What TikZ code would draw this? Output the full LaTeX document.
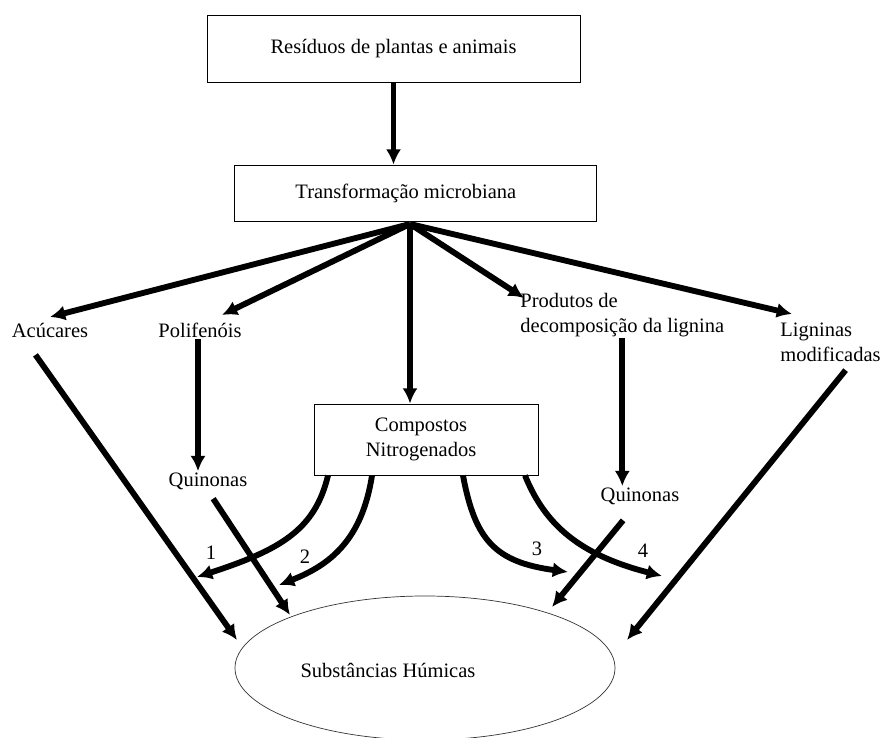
\documentclass[tikz,border=0pt]{standalone}
\usepackage{fontspec}
\setmainfont{Liberation Serif}
\usetikzlibrary{arrows.meta,shapes.geometric}

\begin{document}
\begin{tikzpicture}[x=0.03cm,y=-0.03cm,
every node/.style={font=\fontsize{17.5}{21.5}\selectfont, inner sep=1pt},
caixa/.style={draw, line width=0.8pt},
seta/.style={line width=5pt, -{Latex[length=13pt,width=13pt]}},
fina/.style={draw, ellipse, line width=0.6pt, black!80}]
\useasboundingbox (0,0) rectangle (882,738);
\node[caixa, minimum width=11.19cm, minimum height=2.01cm] (res) at (393.5,48.5) {Resíduos de plantas e animais};
\node[caixa, minimum width=10.86cm, minimum height=1.68cm] (trans) at (415,193) {Transformação microbiana\kern0.55cm};
\node[caixa, minimum width=6.72cm, minimum height=2.13cm, align=center] (comp) at (426,439.5) {Compostos\kern0.3cm\\Nitrogenados\kern0.3cm};
\node[fina, minimum width=11.4cm, minimum height=4.32cm] (hum) at (425,668) {};
\node (humtxt) at (388,670) {Substâncias Húmicas};
\node (acu) at (50,330) {Acúcares};
\node (poli) at (200,330) {Polifenóis};
\node[anchor=west, align=left] (prod) at (519,315) {Produtos de\\decomposição da lignina};
\node[anchor=west, align=left] (lig) at (779,342) {Ligninas\\modificadas};
\node (quin1) at (208,481) {Quinonas};
\node (quin2) at (640,496) {Quinonas};
\node (n1) at (211,553) {1};
\node (n2) at (305,557) {2};
\node (n3) at (537,549) {3};
\node (n4) at (643,551) {4};
\coordinate (hub) at (410,224);
\coordinate (t1) at (237,640);
\coordinate (t2) at (290,615);
\coordinate (t3) at (552,607);
\coordinate (t4) at (627,640);
\coordinate (c1) at (197,577);
\coordinate (c2) at (279,585);
\coordinate (c3) at (568,572);
\coordinate (c4) at (662,576);
% setas principais
\draw[seta] (res.south) -- (res.south |- trans.north);
\draw[seta] (hub) -- ([yshift=0.39cm]acu.center);
\draw[seta] (hub) -- ([xshift=0.66cm,yshift=0.45cm]poli.center);
\draw[seta] (hub) -- (hub |- comp.north);
\draw[seta] (hub) -- ([xshift=0.15cm,yshift=0.51cm]prod.west);
\draw[seta] (hub) -- ([xshift=0.39cm,yshift=0.84cm]lig.west);
\draw[seta] ([xshift=-0.06cm]poli.south) -- ([xshift=-0.06cm]poli.south |- quin1.north);
\draw[seta] (prod.south) -- (prod.south |- quin2.north);
% para as substancias humicas
\draw[seta, shorten <=17pt] ([xshift=-0.78cm]acu.south) -- (t1);
\draw[seta, shorten <=8pt] (quin1.south) -- (t2);
\draw[seta, shorten <=16pt] ([xshift=-0.15cm]quin2.south) -- (t3);
\draw[seta, shorten <=8pt] ([xshift=0.63cm]lig.south) -- (t4);
% compostos nitrogenados
\draw[seta] ([xshift=-2.94cm]comp.south) .. controls (315,530) and (280,550) .. (c1);
\draw[seta] ([xshift=-1.62cm]comp.south) .. controls (362,540) and (330,565) .. (c2);
\draw[seta] ([xshift=1.11cm]comp.south) .. controls (475,540) and (495,562) .. (c3);
\draw[seta] ([xshift=2.97cm]comp.south) .. controls (545,525) and (580,555) .. (c4);
\end{tikzpicture}
\end{document}
